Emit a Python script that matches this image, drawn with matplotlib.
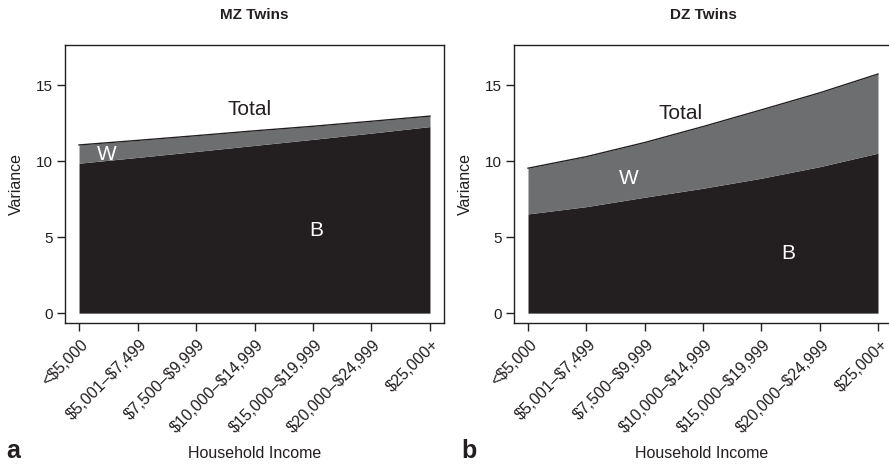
import matplotlib
matplotlib.use("Agg")
import matplotlib.pyplot as plt
from matplotlib.transforms import ScaledTranslation
import numpy as np

plt.rcParams['font.family'] = ['Liberation Sans', 'DejaVu Sans']

income = ["<$5,000", "$5,001–$7,499", "$7,500–$9,999", "$10,000–$14,999",
          "$15,000–$19,999", "$20,000–$24,999", "$25,000+"]

# MZ twins: total variance and between-pair component
mz_total = [11.07, 11.37, 11.68, 12.00, 12.30, 12.63, 12.97]
mz_between = [9.87, 10.25, 10.64, 11.04, 11.44, 11.85, 12.28]

# DZ twins: total variance and between-pair component
dz_total = [9.54, 10.30, 11.23, 12.28, 13.38, 14.50, 15.74]
dz_between = [6.53, 7.01, 7.63, 8.22, 8.88, 9.64, 10.53]

yticks = [0, 5, 10, 15]

DARK = "#231f20"
GREY = "#6d6e70"

W, H = 889, 465
fig = plt.figure(figsize=(W / 100, H / 100), dpi=100)


def px_axes(left, right, top, bottom):
    return fig.add_axes([left / W, 1 - bottom / H, (right - left) / W, (bottom - top) / H])


panels = [
    dict(ax=px_axes(65, 444, 45, 323), total=mz_total, between=mz_between,
         labels=[("Total", 3.92, 13.4), ("W", 1.47, 10.45), ("B", 5.06, 5.45)]),
    dict(ax=px_axes(514, 892, 45, 323), total=dz_total, between=dz_between,
         labels=[("Total", 3.61, 13.15), ("W", 2.72, 8.85), ("B", 5.46, 3.95)]),
]

# dollar signs must not trigger mathtext
tick_text = [s.replace("$", r"\$") for s in income]
label_shift = ScaledTranslation(7 / 100, 0, fig.dpi_scale_trans)

for p in panels:
    ax = p["ax"]
    x = np.arange(1, len(income) + 1)
    ax.fill_between(x, 0, p["between"], color=DARK, linewidth=0)
    ax.fill_between(x, p["between"], p["total"], color=GREY, linewidth=0)
    ax.plot(x, p["total"], color=DARK, linewidth=1.0)

    ax.set_xlim(0.76, 7.24)
    ax.set_ylim(-0.65, 17.65)
    ax.set_yticks(yticks)
    ax.set_yticklabels([str(v) for v in yticks], fontsize=11, color=DARK)
    ax.set_xticks(x)
    ax.set_xticklabels(tick_text, rotation=45, ha="right", va="center",
                       rotation_mode="anchor", fontsize=11.5, color=DARK)
    ax.tick_params(axis="both", direction="out", length=6, width=1.0, color=DARK)
    ax.tick_params(axis="y", pad=3)
    ax.tick_params(axis="x", pad=8)
    for lab in ax.get_xticklabels():
        lab.set_transform(lab.get_transform() + label_shift)
    for s in ax.spines.values():
        s.set_color(DARK)
        s.set_linewidth(1.0)

    ax.set_ylabel("Variance", fontsize=11.5, color=DARK, labelpad=8)

    for txt, tx, ty in p["labels"]:
        col = DARK if txt == "Total" else "white"
        ax.text(tx, ty, txt, fontsize=15, color=col, ha="center", va="center")

# titles, x-axis labels and panel letters in figure pixel coordinates
fig.text(254 / W, 1 - 15 / H, "MZ Twins", fontsize=11, fontweight="bold",
         color=DARK, ha="center", va="center")
fig.text(703 / W, 1 - 15 / H, "DZ Twins", fontsize=11, fontweight="bold",
         color=DARK, ha="center", va="center")
fig.text(255 / W, 1 - 453 / H, "Household Income", fontsize=11.5,
         color=DARK, ha="center", va="center")
fig.text(702 / W, 1 - 453 / H, "Household Income", fontsize=11.5,
         color=DARK, ha="center", va="center")
fig.text(13 / W, 1 - 458 / H, "a", fontsize=18, fontweight="bold",
         color=DARK, ha="center", va="baseline")
fig.text(469 / W, 1 - 458 / H, "b", fontsize=18, fontweight="bold",
         color=DARK, ha="center", va="baseline")

fig.savefig("out.png", dpi=100)
